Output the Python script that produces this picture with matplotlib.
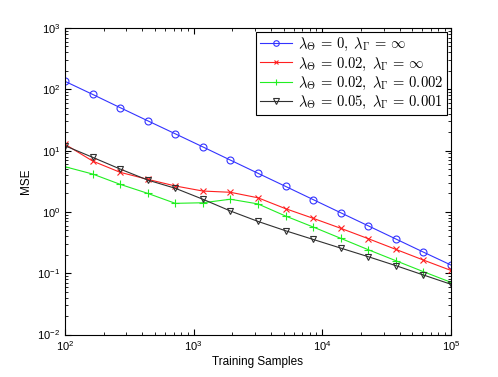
import matplotlib
matplotlib.use("Agg")
import matplotlib.pyplot as plt
import numpy as np

plt.rcParams['font.family'] = ['Liberation Sans', 'DejaVu Sans']
plt.rcParams['mathtext.fontset'] = 'cm'

# training sample counts (15 points, 10^2 .. 10^5)
samples = [100, 164, 268, 439, 720, 1179, 1931, 3162, 5179, 8483,
           13895, 22758, 37276, 61054, 100000]

mse_blue = [135, 82.6, 50.3, 30.7, 18.8, 11.5, 7.0, 4.27, 2.61, 1.59,
            0.97, 0.593, 0.362, 0.221, 0.136]
mse_red = [12.7, 6.76, 4.43, 3.40, 2.65, 2.19, 2.09, 1.70, 1.13, 0.787,
           0.541, 0.366, 0.245, 0.164, 0.111]
mse_green = [5.46, 4.15, 2.82, 2.01, 1.38, 1.41, 1.61, 1.35, 0.857, 0.568,
             0.371, 0.242, 0.160, 0.106, 0.071]
mse_black = [12.0, 7.77, 5.01, 3.31, 2.43, 1.61, 1.035, 0.70, 0.493, 0.356,
             0.257, 0.186, 0.133, 0.0936, 0.066]

labels = [r'$\lambda_\Theta\,=\,0,\;\lambda_\Gamma\,=\,\infty$',
          r'$\lambda_\Theta\,=\,0.02,\;\lambda_\Gamma\,=\,\infty$',
          r'$\lambda_\Theta\,=\,0.02,\;\lambda_\Gamma\,=\,0.002$',
          r'$\lambda_\Theta\,=\,0.05,\;\lambda_\Gamma\,=\,0.001$']

fig = plt.figure(figsize=(4.98, 3.77), dpi=100)
ax = fig.add_axes([0.1305, 0.1127, 0.775, 0.813])

lw = 0.8
ax.plot(samples, mse_blue, color='#3333ff', marker='o', ms=5, mfc='none', lw=lw, mew=0.8, label=labels[0])
ax.plot(samples, mse_red, color='#ff2020', marker='x', ms=4, lw=lw, mew=0.8, label=labels[1])
ax.plot(samples, mse_green, color='#22ee22', marker='+', ms=5.5, lw=lw, mew=0.8, label=labels[2])
ax.plot(samples, mse_black, color='#303030', marker='v', ms=5, mfc='none', lw=lw, mew=0.8, label=labels[3])

ax.set_xscale('log')
ax.set_yscale('log')
ax.set_xlim(100, 1e5)
ax.set_ylim(1e-2, 1e3)

ax.tick_params(which='both', direction='in', top=True, right=True, labelsize=8)
ax.tick_params(which='major', length=4)
ax.tick_params(which='minor', length=2)
for s in ax.spines.values():
    s.set_linewidth(0.8)

ax.set_xlabel('Training Samples', fontsize=8.5, labelpad=2)
ax.set_ylabel('MSE', fontsize=8.5, labelpad=4)

leg = ax.legend(loc='upper right', fontsize=10.5, fancybox=False, framealpha=1,
                edgecolor='black', handlelength=2.2, borderpad=0.25,
                labelspacing=0.15, handletextpad=0.4, borderaxespad=0.3,
                markerscale=0.8)
leg.get_frame().set_linewidth(0.8)

fig.savefig('out.png', dpi=100)
